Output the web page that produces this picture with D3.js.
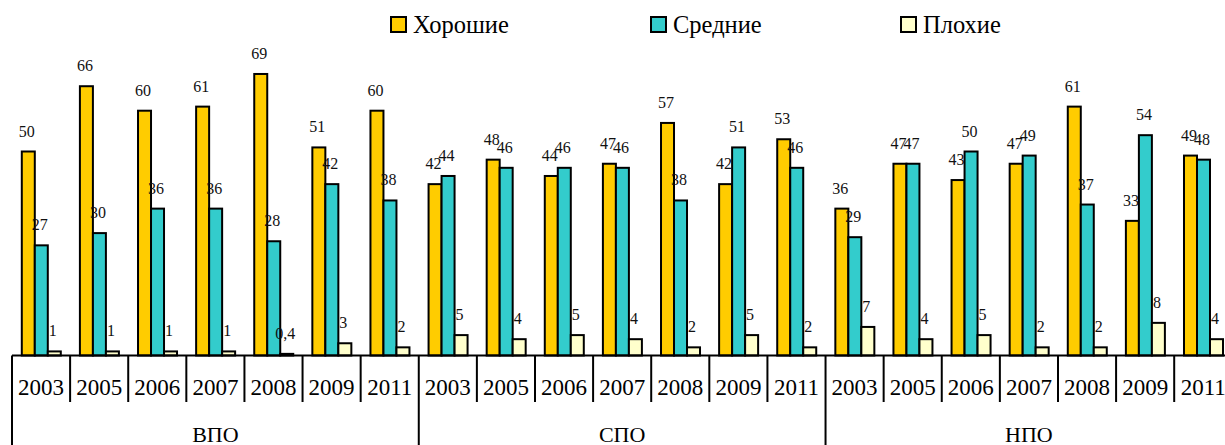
<!DOCTYPE html>
<html>
<head>
<meta charset="utf-8">
<title>Хорошие / Средние / Плохие</title>
</head>
<body style="margin:0;background:#fff">
<div id="chart"></div>
<script src="https://d3js.org/d3.v7.min.js"></script>
<script>
// ******* data *******
const groups = ["ВПО", "СПО", "НПО"];
const years = ["2003", "2005", "2006", "2007", "2008", "2009", "2011"];
const series = ["Хорошие", "Средние", "Плохие"];
const colors = ["#FFCC00", "#33CCCC", "#FFFFCC"];

// values per group, in the order of years
const good = {
  "ВПО": [50, 66, 60, 61, 69, 51, 60],
  "СПО": [42, 48, 44, 47, 57, 42, 53],
  "НПО": [36, 47, 43, 47, 61, 33, 49]
};
const average = {
  "ВПО": [27, 30, 36, 36, 28, 42, 38],
  "СПО": [44, 46, 46, 46, 38, 51, 46],
  "НПО": [29, 47, 50, 49, 37, 54, 48]
};
const bad = {
  "ВПО": [1, 1, 1, 1, 0.4, 3, 2],
  "СПО": [5, 4, 5, 4, 2, 5, 2],
  "НПО": [7, 4, 5, 2, 2, 8, 4]
};

// ******* layout *******
const width = 1225, height = 445;
const left = 12, step = 58.11, base = 355.5;
const legendX = [391, 651, 901];
const font = "'Liberation Serif', 'Times New Roman', serif";

// flat table of categories built from the arrays above
const cats = [];
groups.forEach(g => years.forEach((yr, i) => {
  cats.push({ key: g + yr, group: g, year: yr, vals: [good[g][i], average[g][i], bad[g][i]] });
}));

const x0 = d3.scaleBand()
  .domain(cats.map(d => d.key))
  .range([left, left + step * cats.length])
  .padding(0);
const x1 = d3.scaleBand()
  .domain(series)
  .range([9.8, 48.8]);
const y = d3.scaleLinear()
  .domain([0, 80])
  .range([base, base - 80 * 4.08]);
const color = d3.scaleOrdinal().domain(series).range(colors);

const svg = d3.select("#chart").append("svg")
  .attr("width", width)
  .attr("height", height)
  .style("display", "block");

// ******* bars *******
const cat = svg.selectAll(".cat")
  .data(cats)
  .enter().append("g")
  .attr("class", "cat")
  .attr("transform", d => `translate(${x0(d.key)},0)`);

cat.selectAll("rect")
  .data(d => d.vals.map((v, i) => ({ s: series[i], v: v })))
  .enter().append("rect")
  .attr("x", d => x1(d.s))
  .attr("y", d => y(d.v))
  .attr("width", x1.bandwidth())
  .attr("height", d => base - y(d.v))
  .attr("fill", d => color(d.s))
  .attr("stroke", "#000")
  .attr("stroke-width", 2);

// value labels
cat.selectAll(".val")
  .data(d => d.vals.map((v, i) => ({ s: series[i], v: v })))
  .enter().append("text")
  .attr("class", "val")
  .attr("x", d => x1(d.s) + x1.bandwidth() / 2 - 1.5)
  .attr("y", d => y(d.v) - 15)
  .attr("text-anchor", "middle")
  .style("font-family", font)
  .style("font-size", "16px")
  .attr("fill", "#111")
  .text(d => String(d.v).replace(".", ","));

// ******* category axis *******
svg.append("line")
  .attr("x1", left).attr("x2", width)
  .attr("y1", base).attr("y2", base)
  .attr("stroke", "#000").attr("stroke-width", 2);

// separators between years (short) and between groups (long)
svg.selectAll(".sep")
  .data(cats)
  .enter().append("line")
  .attr("class", "sep")
  .attr("x1", d => x0(d.key)).attr("x2", d => x0(d.key))
  .attr("y1", base)
  .attr("y2", d => d.year === years[0] ? height : 402)
  .attr("stroke", "#000").attr("stroke-width", 2);

svg.selectAll(".yr")
  .data(cats)
  .enter().append("text")
  .attr("class", "yr")
  .attr("x", d => x0(d.key) + x0.bandwidth() / 2)
  .attr("y", 395)
  .attr("text-anchor", "middle")
  .style("font-family", font)
  .style("font-size", "23px")
  .text(d => d.year);

svg.selectAll(".grp")
  .data(groups)
  .enter().append("text")
  .attr("class", "grp")
  .attr("x", g => (x0(g + years[0]) + x0(g + years[years.length - 1]) + x0.bandwidth()) / 2)
  .attr("y", 442)
  .attr("text-anchor", "middle")
  .style("font-family", font)
  .style("font-size", "22px")
  .text(g => g);

// ******* legend *******
const legend = svg.selectAll(".leg")
  .data(series)
  .enter().append("g")
  .attr("class", "leg")
  .attr("transform", (d, i) => `translate(${legendX[i]},17)`);
legend.append("rect")
  .attr("width", 15).attr("height", 15)
  .attr("fill", d => color(d))
  .attr("stroke", "#000").attr("stroke-width", 2);
legend.append("text")
  .attr("x", 22).attr("y", 16)
  .style("font-family", font)
  .style("font-size", "24.5px")
  .text(d => d);
</script>
</body>
</html>
